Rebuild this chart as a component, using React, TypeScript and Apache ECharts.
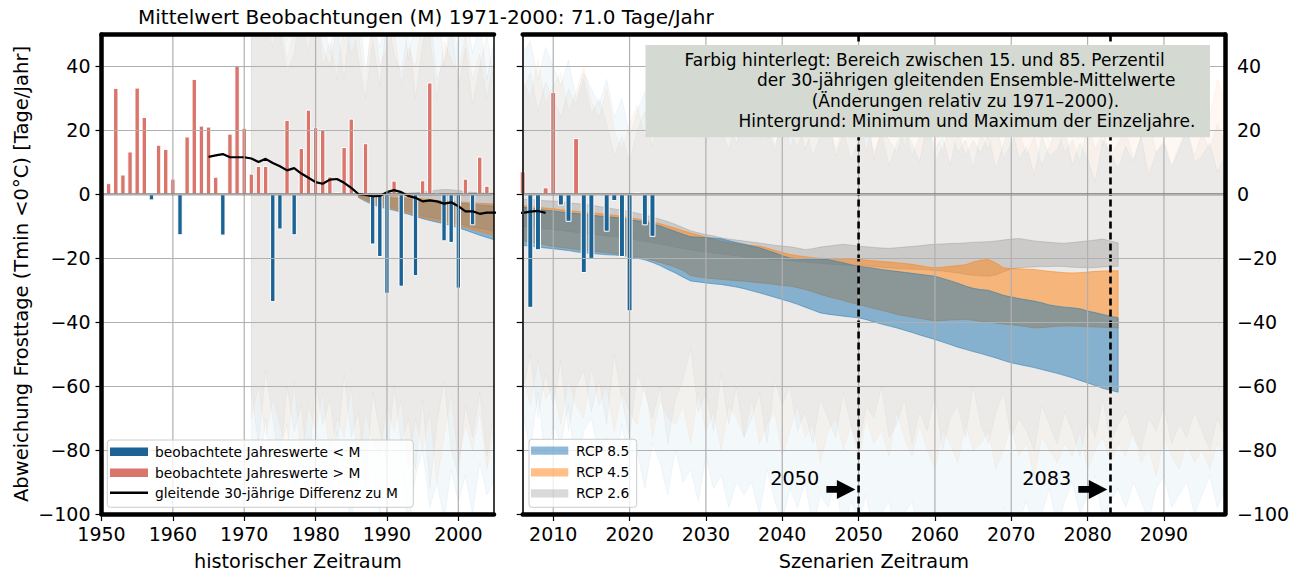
import React, { useEffect, useRef } from "react";
import * as echarts from "echarts";

const FONT = "'DejaVu Sans', sans-serif";

// ---------- axes ----------
const xTicksL = [1950, 1960, 1970, 1980, 1990, 2000];
const xGridL = [1960, 1970, 1980, 1990, 2000];
const xTicksR = [2010, 2020, 2030, 2040, 2050, 2060, 2070, 2080, 2090];
const yTicks = [-100, -80, -60, -40, -20, 0, 20, 40];
const markYears = [2050, 2083];
const panelRanges = [[1950, 2005], [2006, 2098]];

// ---------- observations (deviation from M, days/year) ----------
const obsStart = 1951;
const obsValues = [
  3.5, 33.3, 6.2, 13.4, 33.4, 24.2, -1.9, 15.5, 14.2, 4.9,
  -12.8, 18.1, 36.1, 21.5, 21.2, 5.5, -12.9, 19.0, 40.3, 20.8,
  6.5, 8.9, 8.9, -33.7, -11.0, 23.3, -12.8, 14.5, 26.5, 21.0,
  20.4, 5.6, 0.7, 14.8, 23.7, 0.3, 16.0, -15.7, -19.6, -31.1,
  4.3, -28.9, -0.8, -25.6, 4.4, 35.0, 0.4, -14.7, -15.2, -29.5,
  4.9, -9.7, 11.8, 2.7, -0.5, 7.2, -35.5, -17.5, 2.2, 32.0,
  -3.5, -8.6, 17.6, -24.6, -20.2, -0.4, -11.7, -2.1, -19.6, -36.6,
  0.7, -9.7, -13.3,
];

// ---------- 30-year moving difference ----------
const maStart = 1965;
const maValues = [
  11.7, 12.2, 12.6, 11.6, 11.6, 11.6, 11.2, 10.1, 11.1, 9.8,
  8.8, 7.5, 8.2, 6.5, 5.2, 3.8, 3.3, 4.6, 4.8, 3.6,
  2.0, 0.1, -0.2, -0.6, -0.5, 0.7, 1.3, 0.7, -0.5, -1.1,
  -2.2, -1.9, -2.2, -2.9, -2.5, -3.7, -5.3, -5.3, -6.1, -5.7,
  -5.7, -5.8, -5.4, -5.2, -5.8,
];

// ---------- 15-85 percentile bands of 30-yr ensemble means ----------
const bandStart = 1986;
const rcp26Top = [
  0.3, 0.2, 0.1, 0.0, 0.2, 0.3, 0.3, 0.4, 0.5, 0.7,
  1.0, 1.3, 1.5, 1.4, 1.2, 0.8, 0.6, 0.5, 0.4, 0.3,
  -1.5, -1.6, -1.8, -2.0, -2.1, -2.3, -2.6, -2.9, -3.1, -3.4,
  -3.8, -4.2, -4.6, -5.0, -5.4, -5.9, -6.5, -7.1, -7.8, -8.5,
  -9.4, -10.4, -11.4, -12.0, -12.6, -13.0, -13.6, -14.0, -14.3, -14.6,
  -14.9, -15.2, -15.6, -15.9, -16.2, -16.4, -16.8, -17.3, -17.0, -16.5,
  -16.2, -15.9, -15.6, -15.9, -16.2, -16.4, -16.6, -16.8, -16.9, -16.7,
  -16.5, -16.3, -16.1, -15.8, -15.6, -15.5, -15.4, -15.3, -15.2, -15.0,
  -14.9, -14.8, -14.6, -14.3, -14.0, -13.8, -14.2, -14.6, -14.8, -15.0,
  -15.2, -15.3, -15.1, -14.8, -14.6, -14.3, -14.0, -14.6, -15.2,
];
const rcp26Bot = [
  -0.5, -1.5, -2.5, -3.2, -3.8, -4.3, -4.8, -5.4, -6.0, -6.8,
  -7.2, -7.6, -8.0, -8.6, -9.2, -9.6, -10.2, -10.6, -11.0, -11.5,
  -10.0, -10.2, -10.5, -10.8, -11.0, -11.3, -11.6, -11.9, -12.1, -12.4,
  -12.7, -13.0, -13.3, -13.6, -14.0, -14.3, -14.7, -15.1, -15.5, -16.0,
  -16.5, -17.0, -17.4, -17.7, -18.0, -18.3, -18.6, -18.9, -19.2, -19.5,
  -19.8, -20.0, -20.2, -20.4, -20.6, -20.8, -21.0, -21.2, -21.4, -21.6,
  -21.8, -22.0, -22.1, -22.2, -22.3, -22.4, -22.6, -22.8, -23.0, -23.2,
  -23.3, -23.4, -23.5, -23.6, -23.8, -24.0, -24.3, -24.6, -25.0, -25.3,
  -25.5, -25.6, -25.2, -24.2, -23.4, -23.0, -22.8, -22.7, -22.6, -22.6,
  -22.5, -22.6, -22.8, -22.9, -23.0, -22.9, -22.7, -22.6, -22.5,
];
const rcp45Top = [
  -0.2, -0.4, -0.6, -0.7, -0.6, -0.8, -0.9, -1.0, -1.2, -1.4,
  -1.6, -1.9, -2.0, -2.2, -2.3, -2.5, -2.6, -2.8, -2.9, -3.0,
  -3.5, -3.7, -4.0, -4.3, -4.5, -4.8, -5.0, -5.3, -5.5, -5.8,
  -6.0, -6.3, -6.5, -6.9, -7.3, -7.7, -8.0, -8.6, -9.2, -9.9,
  -10.6, -11.4, -12.1, -12.7, -13.4, -14.0, -14.7, -15.1, -15.5, -15.8,
  -16.0, -16.2, -16.8, -17.5, -18.2, -18.8, -19.2, -19.5, -19.8, -20.0,
  -20.1, -20.2, -20.3, -20.3, -20.4, -20.6, -20.8, -21.0, -21.2, -21.4,
  -21.6, -21.9, -22.3, -22.7, -23.0, -22.8, -22.5, -22.3, -22.0, -21.2,
  -20.6, -20.4, -21.5, -23.0, -23.2, -23.3, -23.4, -23.5, -23.8, -24.1,
  -24.3, -24.5, -24.6, -24.5, -24.3, -24.1, -24.0, -23.9, -23.9,
];
const rcp45Bot = [
  -0.8, -1.8, -2.8, -3.5, -4.1, -4.6, -5.2, -5.8, -6.5, -7.2,
  -7.8, -8.2, -8.6, -9.2, -9.8, -10.3, -11.0, -11.6, -12.2, -12.8,
  -14.5, -14.9, -15.3, -15.8, -16.3, -16.6, -16.9, -17.2, -17.5, -17.7,
  -18.0, -18.3, -18.5, -18.8, -19.2, -19.6, -20.0, -20.6, -21.3, -22.0,
  -22.8, -23.8, -25.4, -25.8, -26.1, -26.4, -26.6, -26.8, -27.0, -27.2,
  -27.4, -27.7, -27.9, -28.2, -28.5, -28.7, -29.2, -29.8, -30.5, -31.3,
  -32.0, -32.6, -33.2, -33.9, -34.5, -35.1, -35.7, -36.3, -36.9, -37.6,
  -38.0, -38.4, -38.8, -39.2, -39.6, -39.5, -39.3, -39.2, -39.1, -39.4,
  -39.7, -40.0, -40.3, -40.6, -40.8, -41.1, -41.4, -41.8, -41.7, -41.5,
  -41.3, -41.2, -41.2, -41.3, -41.4, -41.5, -41.6, -41.7, -41.8,
];
const rcp85Top = [
  -0.3, -0.5, -0.8, -1.0, -1.0, -1.2, -1.3, -1.5, -1.6, -1.8,
  -2.0, -2.2, -2.4, -2.5, -2.7, -2.9, -3.1, -3.3, -3.5, -3.7,
  -4.0, -4.3, -4.6, -5.0, -5.2, -5.5, -5.8, -6.0, -6.2, -6.5,
  -6.8, -7.0, -7.2, -7.5, -7.9, -8.3, -8.6, -9.2, -9.9, -10.8,
  -11.6, -12.5, -13.3, -13.4, -13.5, -13.7, -13.9, -14.5, -15.1, -15.6,
  -16.2, -16.7, -17.5, -18.3, -19.2, -19.9, -20.1, -20.2, -20.3, -20.4,
  -20.4, -20.9, -21.4, -22.0, -22.5, -22.8, -23.1, -23.5, -23.8, -24.1,
  -24.4, -24.7, -25.0, -25.3, -25.6, -26.3, -27.0, -27.8, -28.7, -29.4,
  -29.8, -30.0, -30.8, -31.6, -32.1, -32.6, -33.0, -33.4, -33.9, -34.6,
  -35.0, -35.3, -35.5, -35.8, -36.5, -37.0, -37.6, -38.1, -38.6,
];
const rcp85Bot = [
  -1.0, -2.2, -3.2, -4.0, -4.5, -5.0, -5.6, -6.2, -6.9, -7.6,
  -8.2, -8.7, -9.2, -9.8, -10.5, -11.2, -12.0, -12.8, -13.5, -14.2,
  -16.0, -16.2, -16.5, -16.8, -17.0, -17.3, -17.6, -18.0, -18.3, -18.5,
  -18.7, -18.9, -19.0, -19.2, -19.5, -20.0, -20.5, -21.3, -22.3, -23.5,
  -24.6, -25.9, -27.1, -27.4, -27.7, -28.0, -28.2, -28.6, -29.0, -29.5,
  -30.2, -30.8, -31.5, -32.2, -32.9, -33.6, -34.4, -35.3, -36.2, -37.1,
  -37.5, -37.8, -38.1, -38.4, -38.6, -39.2, -39.9, -40.6, -41.2, -41.8,
  -42.5, -43.2, -44.0, -44.7, -45.4, -46.2, -47.0, -47.8, -48.5, -49.2,
  -49.8, -50.5, -51.2, -52.0, -52.7, -53.2, -53.7, -54.2, -54.8, -55.4,
  -56.0, -56.7, -57.4, -58.2, -59.0, -59.8, -60.7, -61.3, -61.9,
];

// ---------- single-year minimum / maximum (background) ----------
const bgStart = 1971;
const bg26Max = [
  55, 62, 48, 58, 52, 38, 44, 60, 50, 57, 46, 40, 53, 36, 58, 42, 30, 48, 34, 56,
  44, 38, 52, 30, 47, 58, 36, 42, 55, 33, 46, 28, 40, 50, 35,
  32, 38, 26, 35, 30, 24, 33, 28, 36, 25, 30, 22, 12, 18, 10, 20, 26, 15, 24, 30,
  21, 27, 18, 25, 16, 28, 20, 14, 23, 19, 26, 17, 22, 13, 24, 19, 15, 21, 12, 18,
  23, 14, 20, 11, 17, 25, 13, 19, 9, 16, 22, 12, 18, 24, 10, 15, 21, 13, 17, 8,
  19, 14, 23, 11, 16, 20, 12, 18, 9, 15, 21, 13, 17, 10, 22, 14, 19, 12, 16, 20,
  11, 18, 23, 13, 17, 9, 15, 21, 12, 19, 14, 22, 16,
];
const bg26Min = [
  -62, -78, -55, -70, -84, -60, -74, -66, -88, -58, -72, -64, -80, -56, -76, -68, -90, -62, -74, -84,
  -60, -78, -70, -86, -64, -92, -72, -58, -80, -88, -66, -76, -62, -82, -70,
  -62, -50, -70, -56, -66, -52, -74, -60, -55, -68, -58, -72, -50, -64, -76, -56, -62, -70, -60, -78,
  -64, -58, -48, -68, -62, -74, -56, -72, -60, -76, -70, -62, -78, -58, -66, -60, -74, -68, -78, -64,
  -70, -76, -62, -72, -80, -66, -70, -60, -76, -72, -64, -78, -68, -74, -62, -80, -70, -66, -76, -60,
  -72, -78, -68, -62, -76, -70, -74, -80, -66, -72, -78, -68, -74, -82, -70, -76, -64, -78, -72, -68,
  -76, -80, -70, -74, -66, -78, -72, -76, -68, -74, -80, -70, -76,
];
const bg45Max = [
  50, 58, 54, 46, 60, 42, 52, 56, 44, 62, 40, 48, 36, 55, 44, 50, 34, 58, 40, 46,
  52, 34, 46, 40, 56, 50, 30, 48, 42, 38, 50, 36, 44, 30, 42,
  36, 30, 42, 28, 34, 38, 26, 32, 40, 29, 24, 33, 20, 14, 22, 28, 18, 25, 31, 20,
  26, 19, 30, 22, 16, 27, 21, 24, 15, 28, 20, 25, 17, 23, 29, 14, 21, 26, 18, 22,
  27, 16, 23, 19, 28, 13, 24, 20, 17, 25, 15, 22, 28, 18, 24, 12, 26, 20, 16, 23,
  29, 17, 21, 25, 14, 27, 19, 23, 30, 16, 22, 26, 18, 31, 20, 24, 15, 28, 33, 21,
  38, 24, 30, 42, 26, 35, 22, 40, 28, 34, 24, 36, 30,
];
const bg45Min = [
  -70, -60, -76, -64, -72, -80, -58, -84, -66, -74, -62, -82, -70, -76, -60, -88, -68, -78, -82, -66,
  -74, -64, -86, -70, -80, -68, -90, -76, -62, -84, -72, -80, -68, -86, -74,
  -56, -66, -52, -64, -60, -72, -58, -66, -70, -54, -66, -60, -74, -62, -68, -72, -58, -76, -64, -70,
  -72, -66, -78, -62, -74, -68, -80, -66, -70, -76, -64, -78, -72, -68, -82, -74, -66, -76, -72, -84,
  -74, -70, -80, -72, -84, -70, -78, -74, -82, -68, -76, -82, -72, -80, -86, -74, -78, -84, -72, -80,
  -78, -74, -86, -80, -72, -82, -78, -88, -76, -80, -84, -78, -82, -74, -86, -80, -76, -84, -78, -82,
  -74, -84, -80, -88, -76, -82, -86, -78, -84, -80, -86, -78, -82,
];
const bg85Max = [
  60, 52, 66, 56, 62, 48, 58, 54, 64, 50, 56, 44, 60, 48, 52, 62, 38, 54, 46, 58,
  50, 62, 42, 56, 48, 54, 64, 40, 52, 46, 58, 44, 54, 36, 48,
  44, 48, 36, 46, 40, 34, 42, 30, 38, 33, 28, 36, 24, 30, 18, 26, 32, 22, 28, 24,
  30, 22, 27, 18, 25, 29, 20, 24, 16, 26, 22, 18, 27, 15, 23, 20, 25, 14, 21, 17,
  24, 12, 19, 22, 15, 26, 11, 20, 17, 13, 21, 16, 10, 23, 14, 18, 9, 20, 12, 17,
  13, 19, 8, 16, 22, 11, 15, 6, 18, 12, 14, 20, 9, 16, 11, 4, 17, 13, 8, 15,
  10, 18, 6, 13, 16, 8, 14, 20, 10, 12, 16, 7, 12,
];
const bg85Min = [
  -76, -88, -70, -94, -80, -72, -98, -84, -76, -90, -82, -96, -74, -88, -104, -80, -92, -86, -100, -78,
  -94, -84, -106, -88, -80, -98, -90, -102, -86, -96, -88, -100, -84, -94, -90,
  -68, -80, -62, -84, -72, -78, -66, -88, -74, -70, -82, -76, -90, -72, -86, -80, -92, -78, -84, -94,
  -80, -90, -86, -96, -82, -92, -88, -98, -90, -94, -90, -100, -86, -96, -102, -92, -98, -90, -104, -94,
  -98, -90, -106, -96, -102, -94, -108, -100, -96, -110, -100, -96, -108, -102, -98, -110, -104, -100, -112, -104,
  -100, -112, -104, -98, -108, -102, -96, -106, -100, -92, -104, -96, -90, -100, -94, -88, -102, -96, -92, -98,
  -90, -96, -102, -92, -88, -98, -94, -90, -100, -94, -88, -98, -92,
];

// ---------- styles ----------
const BAR_BLUE = "#1a6394";
const BAR_RED = "#d9756a";
const GRID_C = "#b0b0b0";
const C85 = "rgba(31,119,180,0.5)";
const C45 = "rgba(255,127,14,0.5)";
const C26 = "rgba(128,128,128,0.3)";
const BG85 = "rgba(31,119,180,0.055)";
const BG45 = "rgba(255,127,14,0.055)";
const BG26 = "rgba(128,128,128,0.055)";

const years = (start: number, n: number) => Array.from({ length: n }, (_, i) => start + i);
const minus = (v: number) => (v < 0 ? "\u2212" + Math.abs(v) : String(v));

function band(id: string, xi: number, yi: number, start: number, up: number[], lo: number[], fill: string, stroke: string, lw: number, z: number, mid: number) {
  const ys = years(start, up.length);
  return {
    type: "custom", id, xAxisIndex: xi, yAxisIndex: yi, z, silent: true,
    data: [[mid, 0]],
    renderItem: (params: any, api: any) => {
      const pts: number[][] = [];
      for (let i = 0; i < ys.length; i++) pts.push(api.coord([ys[i], up[i]]));
      for (let i = ys.length - 1; i >= 0; i--) pts.push(api.coord([ys[i], lo[i]]));
      const cs = params.coordSys;
      return {
        type: "group",
        clipPath: { type: "rect", shape: { x: cs.x, y: cs.y, width: cs.width, height: cs.height } },
        children: [{ type: "polygon", shape: { points: pts }, style: { fill, stroke, lineWidth: lw } }],
      };
    },
  };
}

function vlines(id: string, xi: number, yi: number, vals: number[], stroke: string, lw: number, dash: any, z: number) {
  return {
    type: "custom", id, xAxisIndex: xi, yAxisIndex: yi, z, silent: true,
    data: vals.map((v) => [v, 0]),
    renderItem: (params: any, api: any) => {
      const cs = params.coordSys;
      const x = api.coord([api.value(0), 0])[0];
      return { type: "line", shape: { x1: x, y1: cs.y, x2: x, y2: cs.y + cs.height }, style: { stroke, lineWidth: lw, lineDash: dash } };
    },
  };
}

function zeroLine(id: string, xi: number, yi: number, mid: number) {
  return {
    type: "custom", id, xAxisIndex: xi, yAxisIndex: yi, z: 7, silent: true,
    data: [[mid, 0]],
    renderItem: (params: any, api: any) => {
      const cs = params.coordSys;
      const y = api.coord([api.value(0), 0])[1];
      return { type: "line", shape: { x1: cs.x, y1: y, x2: cs.x + cs.width, y2: y }, style: { stroke: "#444", lineWidth: 1.8 } };
    },
  };
}

function panelSeries(p: number, xi: number, yi: number, mid: number, order: string[]) {
  const [lo, hi] = panelRanges[p];
  const obs = years(obsStart, obsValues.length).map((y, i) => [y, obsValues[i]]).filter((d) => d[0] >= lo && d[0] <= hi);
  const neg = obs.filter((d) => d[1] < 0);
  const pos = obs.filter((d) => d[1] >= 0);
  const bw = p === 0 ? 5.4 : 6.0;
  const bandDefs: any = {
    g: band("b26_" + p, xi, yi, bandStart, rcp26Top, rcp26Bot, C26, C26, 1, 2, mid),
    o: band("b45_" + p, xi, yi, bandStart, rcp45Top, rcp45Bot, C45, C45, 1, 2, mid),
    b: band("b85_" + p, xi, yi, bandStart, rcp85Top, rcp85Bot, C85, C85, 1, 2, mid),
  };
  return [
    band("bg26_" + p, xi, yi, bgStart, bg26Max, bg26Min, BG26, BG26, 1, 1, mid),
    band("bg45_" + p, xi, yi, bgStart, bg45Max, bg45Min, BG45, BG45, 1, 1, mid),
    band("bg85_" + p, xi, yi, bgStart, bg85Max, bg85Min, BG85, BG85, 1, 1, mid),
    ...order.map((k) => bandDefs[k]),
    {
      type: "bar", id: "neg_" + p, xAxisIndex: xi, yAxisIndex: yi, z: 3, data: neg, barWidth: bw, barGap: "-100%",
      itemStyle: { color: BAR_BLUE, borderColor: "#ffffff", borderWidth: 1 }, silent: true,
    },
    {
      type: "bar", id: "pos_" + p, xAxisIndex: xi, yAxisIndex: yi, z: 3, data: pos, barWidth: bw, barGap: "-100%",
      itemStyle: { color: BAR_RED, borderColor: "#ffffff", borderWidth: 1 }, silent: true,
    },
    {
      type: "line", id: "ma_" + p, xAxisIndex: xi, yAxisIndex: yi, z: 4, symbol: "none", silent: true,
      data: years(maStart, maValues.length).map((y, i) => [y, maValues[i]]),
      lineStyle: { color: "#000", width: 2.2 },
    },
    zeroLine("zero_" + p, xi, yi, mid),
  ];
}

const thick = { show: true, onZero: false, lineStyle: { color: "#000", width: 4.5 } };
const lab = { fontSize: 19, color: "#000", fontFamily: FONT };

function buildOption(): any {
  return {
    animation: false,
    textStyle: { fontFamily: FONT },
    grid: [
      { left: 101.5, top: 34.5, width: 392.5, height: 479.5 },
      { left: 522.7, top: 34.5, width: 702.3, height: 479.5 },
    ],
    xAxis: [
      {
        gridIndex: 0, type: "value", min: 1950, max: 2005, interval: 10, position: "bottom", z: 10,
        axisLine: thick,
        axisTick: { show: true, length: 7, customValues: xTicksL, lineStyle: { color: "#000", width: 1.2 } },
        axisLabel: { ...lab, customValues: xTicksL, margin: 10, formatter: (v: number) => String(v) },
        splitLine: { show: false },
      },
      { gridIndex: 0, type: "value", min: 1950, max: 2005, position: "top", z: 10, axisLine: thick, axisTick: { show: false }, axisLabel: { show: false }, splitLine: { show: false } },
      {
        gridIndex: 1, type: "value", min: 2006, max: 2098, position: "bottom", z: 10,
        axisLine: thick,
        axisTick: { show: true, length: 7, customValues: xTicksR, lineStyle: { color: "#000", width: 1.2 } },
        axisLabel: { ...lab, customValues: xTicksR, margin: 10, formatter: (v: number) => String(v) },
        splitLine: { show: false },
      },
      { gridIndex: 1, type: "value", min: 2006, max: 2098, position: "top", z: 10, axisLine: thick, axisTick: { show: false }, axisLabel: { show: false }, splitLine: { show: false } },
    ],
    yAxis: [
      {
        gridIndex: 0, type: "value", min: -100, max: 50, interval: 20, position: "left", z: 10,
        axisLine: thick,
        axisTick: { show: true, length: 6, customValues: yTicks, lineStyle: { color: "#000", width: 1.2 } },
        axisLabel: { ...lab, customValues: yTicks, margin: 11, formatter: minus },
        splitLine: { show: true, lineStyle: { color: GRID_C, width: 1.2 } },
      },
      { gridIndex: 0, type: "value", min: -100, max: 50, position: "right", z: 10, axisLine: { show: true, onZero: false, lineStyle: { color: "#000", width: 1.5 } }, axisTick: { show: false }, axisLabel: { show: false }, splitLine: { show: false } },
      {
        gridIndex: 1, type: "value", min: -100, max: 50, interval: 20, position: "left", z: 10,
        axisLine: { show: true, onZero: false, lineStyle: { color: "#333", width: 2 } },
        axisTick: { show: true, length: 6, customValues: yTicks, lineStyle: { color: "#000", width: 1.2 } },
        axisLabel: { show: false },
        splitLine: { show: true, lineStyle: { color: GRID_C, width: 1.2 } },
      },
      {
        gridIndex: 1, type: "value", min: -100, max: 50, interval: 20, position: "right", z: 10,
        axisLine: thick, axisTick: { show: false },
        axisLabel: { ...lab, customValues: yTicks, margin: 12, formatter: minus },
        splitLine: { show: false },
      },
    ],
    series: [
      ...panelSeries(0, 0, 0, 1990, ["b", "o", "g"]),
      vlines("vgridL", 0, 0, xGridL, GRID_C, 1.2, null, 6),
      ...panelSeries(1, 2, 2, 2050, ["g", "o", "b"]),
      vlines("vgridR", 2, 2, xTicksR, GRID_C, 1.2, null, 6),
      vlines("dash", 2, 2, markYears, "#000", 2.6, [7, 4], 8),
    ],
  };
}

function txt(text: string, x: number, y: number, size: number, align = "left", extra: any = {}) {
  return {
    type: "text", x, y, z: 60, silent: true, ...extra,
    style: { text, fill: "#000", fontSize: size, fontFamily: FONT, align, verticalAlign: "middle" },
  };
}

function buildGraphics(chart: any) {
  const els: any[] = [];
  // title and axis titles
  els.push(txt("Mittelwert Beobachtungen (M) 1971-2000: 71.0 Tage/Jahr", 138, 16.5, 20));
  els.push(txt("Abweichung Frosttage (Tmin <0°C) [Tage/Jahr]", 21, 274, 19.5, "center", { rotation: Math.PI / 2 }));
  els.push(txt("historischer Zeitraum", 297.8, 561, 19.3, "center"));
  els.push(txt("Szenarien Zeitraum", 873.9, 561, 19.3, "center"));

  // arrows + labels
  for (const yr of markYears) {
    const p = chart.convertToPixel({ gridIndex: 1 }, [yr, -92.3]);
    const tx = p[0] - 3.2;
    const ty = p[1];
    els.push({
      type: "polygon", z: 60, silent: true,
      shape: { points: [[tx - 29, ty - 3.3], [tx - 18.5, ty - 3.3], [tx - 18.5, ty - 9.5], [tx, ty], [tx - 18.5, ty + 9.5], [tx - 18.5, ty + 3.3], [tx - 29, ty + 3.3]] },
      style: { fill: "#000" },
    });
    els.push(txt(String(yr), tx - 36, ty - 11, 19.3, "right"));
  }

  // annotation box
  els.push({ type: "rect", z: 55, silent: true, shape: { x: 645.5, y: 45, width: 564.5, height: 92.3 }, style: { fill: "#d4dad2" } });
  els.push(txt("Farbig hinterlegt: Bereich zwischen 15. und 85. Perzentil", 684.6, 59.5, 17));
  els.push(txt("der 30-jährigen gleitenden Ensemble-Mittelwerte", 757, 80, 17));
  els.push(txt("(Änderungen relativ zu 1971–2000).", 811.7, 100.5, 17));
  els.push(txt("Hintergrund: Minimum und Maximum der Einzeljahre.", 738.5, 120.5, 17));

  // left legend
  els.push({ type: "rect", z: 55, silent: true, shape: { x: 107.3, y: 440, width: 306, height: 67.3, r: 3 }, style: { fill: "rgba(255,255,255,0.8)", stroke: "#cccccc", lineWidth: 1 } });
  els.push({ type: "rect", z: 56, silent: true, shape: { x: 110, y: 447.6, width: 38, height: 8.3 }, style: { fill: BAR_BLUE } });
  els.push({ type: "rect", z: 56, silent: true, shape: { x: 110, y: 468.6, width: 38, height: 8.3 }, style: { fill: BAR_RED } });
  els.push({ type: "line", z: 56, silent: true, shape: { x1: 110, y1: 492.7, x2: 148, y2: 492.7 }, style: { stroke: "#000", lineWidth: 2.5 } });
  els.push(txt("beobachtete Jahreswerte < M", 155, 451.7, 13.8));
  els.push(txt("beobachtete Jahreswerte > M", 155, 472.7, 13.8));
  els.push(txt("gleitende 30-jährige Differenz zu M", 155, 492.7, 13.8));

  // right legend
  els.push({ type: "rect", z: 55, silent: true, shape: { x: 529, y: 439.3, width: 107.7, height: 68, r: 3 }, style: { fill: "rgba(255,255,255,0.8)", stroke: "#cccccc", lineWidth: 1 } });
  const rl = [["RCP 8.5", C85, 450.7], ["RCP 4.5", C45, 472.3], ["RCP 2.6", C26, 493.3]];
  for (const [name, col, y] of rl as any) {
    els.push({ type: "rect", z: 56, silent: true, shape: { x: 531, y: y - 4.15, width: 37.3, height: 8.3 }, style: { fill: col } });
    els.push(txt(name, 576, y, 13.8));
  }
  return els;
}

export default function App() {
  const ref = useRef<HTMLDivElement>(null);
  useEffect(() => {
    document.body.style.margin = "0";
    const chart = echarts.init(ref.current!, null, { renderer: "svg" });
    chart.setOption(buildOption());
    chart.setOption({ graphic: { elements: buildGraphics(chart) } });
    return () => chart.dispose();
  }, []);
  return <div ref={ref} style={{ width: 1305, height: 576 }} />;
}
